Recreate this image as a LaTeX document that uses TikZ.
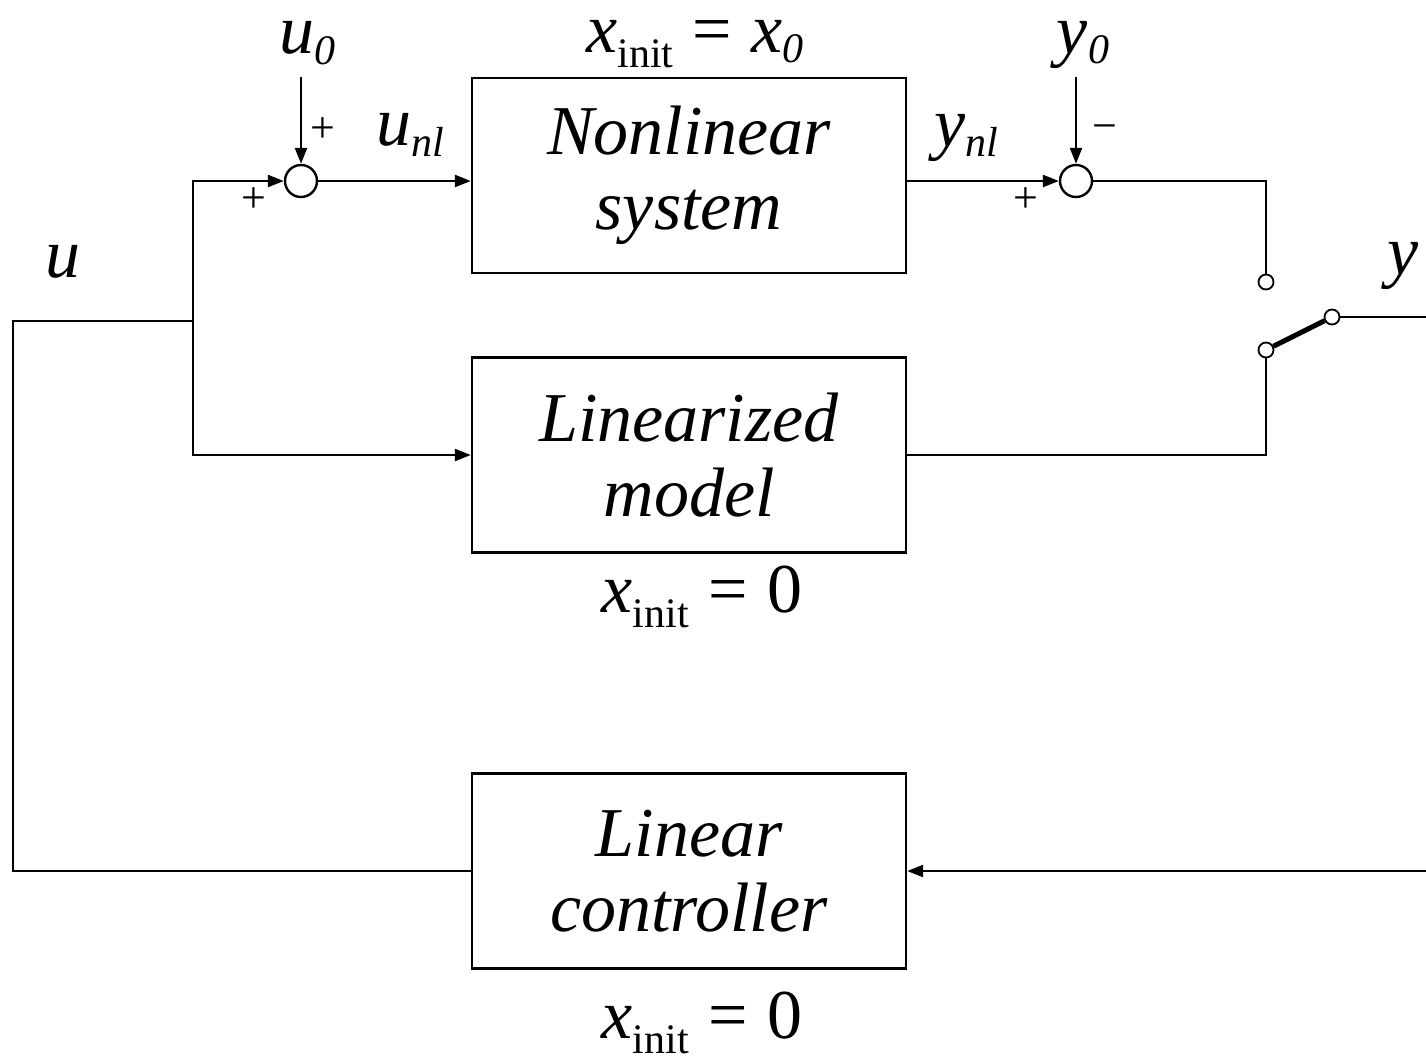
\documentclass[tikz,border=0pt]{standalone}
\usepackage{fontspec}
\setmainfont{Liberation Serif}
\usetikzlibrary{arrows.meta}
% small lowered subscript in the label font
\newcommand\lsub[2][0.32ex]{\raisebox{-#1}{\fontsize{42}{42}\selectfont #2}}
\begin{document}
\begin{tikzpicture}[x=1pt,y=-1pt,
  line width=2.4pt,
  blk/.style={draw, line width=2.4pt, minimum width=434pt, minimum height=195pt,
    inner sep=0pt, align=center, font=\fontsize{70}{75}\selectfont\itshape},
  sumc/.style={draw, circle, minimum size=32pt, inner sep=0pt, line width=2.4pt},
  term/.style={draw, circle, fill=white, minimum size=15pt, inner sep=0pt, line width=1.8pt},
  sig/.style={font=\fontsize{70}{74}\selectfont, inner sep=0pt},
  sgn/.style={font=\fontsize{44}{44}\selectfont, inner sep=0pt},
  arr/.style={-{Triangle[length=16pt,width=12pt]}}
]
\useasboundingbox (0,0) rectangle (1426,1060);

% blocks
\node[blk] (nl) at (689,175.5) {Nonlinear\\system};
\node[blk] (lm) at (689,455) {Linearized\\model};
\node[blk] (lc) at (689,871) {Linear\\controller};

% summing junctions
\node[sumc] (s1) at (301,181) {};
\node[sumc] (s2) at (1076,181) {};

% switch terminals
\node[term] (t1) at (1266,282) {};
\node[term] (t2) at (1266,350) {};
\node[term] (t3) at (1332,317) {};

% free ends and branch points
\coordinate (ju) at (193,321);
\coordinate (lft) at (13,321);
\coordinate (u0in) at (301,77);
\coordinate (y0in) at (1076,77);
\coordinate (yout) at (1426,317);
\coordinate (yin) at (1426,871);

% connectors
\draw[arr] (ju) |- (s1.west);
\draw[arr] (ju) |- (lm.west);
\draw (lc.west) -| (lft) -- (ju);
\draw[arr] (u0in) -- (s1.north);
\draw[arr] (s1.east) -- (nl.west |- s1);
\draw[arr] (nl.east |- s2) -- (s2.west);
\draw[arr] (y0in) -- (s2.north);
\draw (s2.east) -| (t1.north);
\draw (lm.east) -| (t2.south);
\draw[line width=5pt] (t2) -- (t3);
\draw (t3.east) -- (yout);
\draw[arr] (yin) -- (lc.east);

% signal labels
\node[sig] (lu) at (63,262) {\textit{u}};
\node[sig] (lu0) at (307,43) {\textit{u}\lsub{\textit{0}}};
\node[sig] (lunl) at (410,135) {\textit{u}\lsub{\textit{nl}}};
\node[sig] (lx0) at (695,44) {\textit{x}\lsub[0.45ex]{init}\;=\;\textit{x}\lsub{\textit{0}}};
\node[sig] (lynl) at (966,138) {\textit{y}\lsub{\textit{nl}}};
\node[sig] (ly0) at (1083,45) {\textit{y}\lsub{\textit{0}}};
\node[sig] (ly) at (1403,266) {\textit{y}};
\node[sig] (lxa) at (702,597) {\textit{x}\lsub[0.45ex]{init}\;=\;0};
\node[sig] (lxb) at (702,1023) {\textit{x}\lsub[0.45ex]{init}\;=\;0};

% signs at the junctions
\node[sgn] (p1) at (323,130) {+};
\node[sgn] (p2) at (254,200) {+};
\node[sgn] (m3) at (1105,133) {\textminus};
\node[sgn] (p4) at (1026,200) {+};
\end{tikzpicture}
\end{document}
